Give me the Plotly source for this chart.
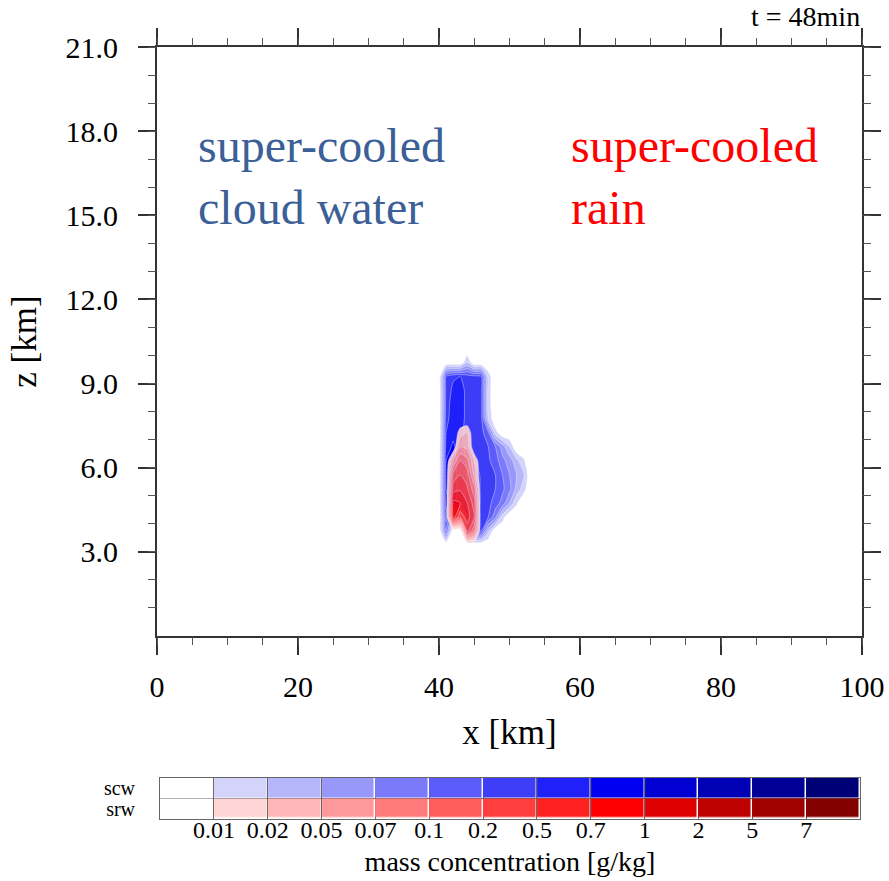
import numpy as np
import plotly.graph_objects as go

# ---------------- data ----------------
levels = [0.01, 0.02, 0.05, 0.07, 0.1, 0.2, 0.5, 0.7, 1, 2, 5, 7]
level_labels = ["0.01", "0.02", "0.05", "0.07", "0.1", "0.2", "0.5", "0.7", "1", "2", "5", "7"]

x_km = [40, 41, 42, 43, 44, 45, 46, 47, 48, 49, 50, 51, 52, 53, 54]
z_km = [3.25, 3.75, 4.25, 4.75, 5.25, 5.75, 6.25, 6.75, 7.25, 7.75, 8.25, 8.75, 9.25, 9.75, 10.25]

# super-cooled cloud water [g/kg], rows = z_km (bottom -> top), cols = x_km
scw = [
    [0, 0,    0,    0,    0,    0,    0,    0,     0,     0,     0,    0,     0,     0, 0],
    [0, 0.12, 0,    0,    0.25, 0.3,  0.2,  0.03,  0,     0,     0,    0,     0,     0, 0],
    [0, 0.35, 0.05, 0.05, 0.5,  0.6,  0.35, 0.2,   0.08,  0.015, 0,    0,     0,     0, 0],
    [0, 0.6,  0.8,  0.6,  0.55, 0.8,  0.4,  0.3,   0.15,  0.09,  0.05, 0.012, 0,     0, 0],
    [0, 0.7,  0.85, 0.6,  0.5,  0.8,  0.4,  0.3,   0.2,   0.12,  0.08, 0.04,  0.015, 0, 0],
    [0, 0.75, 0.85, 0.6,  0.5,  0.75, 0.4,  0.3,   0.2,   0.1,   0.07, 0.05,  0.025, 0, 0],
    [0, 0.7,  0.8,  0.6,  0.45, 0.45, 0.35, 0.25,  0.15,  0.08,  0.06, 0.03,  0.012, 0, 0],
    [0, 0.6,  0.75, 0.6,  0.4,  0.35, 0.3,  0.2,   0.1,   0.06,  0.02, 0,     0,     0, 0],
    [0, 0.5,  0.65, 0.55, 0.4,  0.35, 0.3,  0.12,  0.015, 0,     0,    0,     0,     0, 0],
    [0, 0.4,  0.6,  0.6,  0.4,  0.35, 0.3,  0.02,  0,     0,     0,    0,     0,     0, 0],
    [0, 0.35, 0.6,  0.6,  0.4,  0.35, 0.3,  0.015, 0,     0,     0,    0,     0,     0, 0],
    [0, 0.3,  0.55, 0.6,  0.4,  0.35, 0.3,  0.015, 0,     0,     0,    0,     0,     0, 0],
    [0, 0.25, 0.45, 0.5,  0.35, 0.3,  0.25, 0.015, 0,     0,     0,    0,     0,     0, 0],
    [0, 0,    0,    0,    0.02, 0,    0,    0,     0,     0,     0,    0,     0,     0, 0],
    [0, 0,    0,    0,    0,    0,    0,    0,     0,     0,     0,    0,     0,     0, 0],
]

# super-cooled rain water [g/kg]
srw = [
    [0, 0, 0,    0,     0,    0,     0, 0, 0, 0, 0, 0, 0, 0, 0],
    [0, 0, 0,    0,     0.3,  0.08,  0, 0, 0, 0, 0, 0, 0, 0, 0],
    [0, 0, 0.9,  0.3,   0.6,  0.2,   0, 0, 0, 0, 0, 0, 0, 0, 0],
    [0, 0, 0.8,  0.7,   0.5,  0.15,  0, 0, 0, 0, 0, 0, 0, 0, 0],
    [0, 0, 0.35, 0.45,  0.25, 0.08,  0, 0, 0, 0, 0, 0, 0, 0, 0],
    [0, 0, 0.12, 0.2,   0.15, 0.04,  0, 0, 0, 0, 0, 0, 0, 0, 0],
    [0, 0, 0.05, 0.1,   0.08, 0.02,  0, 0, 0, 0, 0, 0, 0, 0, 0],
    [0, 0, 0,    0.05,  0.04, 0,     0, 0, 0, 0, 0, 0, 0, 0, 0],
    [0, 0, 0,    0.015, 0.02, 0,     0, 0, 0, 0, 0, 0, 0, 0, 0],
    [0, 0, 0,    0,     0,    0,     0, 0, 0, 0, 0, 0, 0, 0, 0],
    [0, 0, 0,    0,     0,    0,     0, 0, 0, 0, 0, 0, 0, 0, 0],
    [0, 0, 0,    0,     0,    0,     0, 0, 0, 0, 0, 0, 0, 0, 0],
    [0, 0, 0,    0,     0,    0,     0, 0, 0, 0, 0, 0, 0, 0, 0],
    [0, 0, 0,    0,     0,    0,     0, 0, 0, 0, 0, 0, 0, 0, 0],
    [0, 0, 0,    0,     0,    0,     0, 0, 0, 0, 0, 0, 0, 0, 0],
]

scw_colors = ["rgb(255,255,255)", "rgb(212,212,250)", "rgb(182,182,250)", "rgb(152,152,250)",
              "rgb(122,122,250)", "rgb(92,92,250)", "rgb(62,62,248)", "rgb(32,32,250)",
              "rgb(0,0,242)", "rgb(0,0,210)", "rgb(0,0,180)", "rgb(0,0,150)", "rgb(0,0,118)"]
srw_colors = ["rgb(255,255,255)", "rgb(255,212,212)", "rgb(255,182,182)", "rgb(255,152,152)",
              "rgb(255,122,122)", "rgb(255,92,92)", "rgb(255,62,62)", "rgb(255,32,32)",
              "rgb(255,0,0)", "rgb(222,0,0)", "rgb(190,0,0)", "rgb(160,0,0)", "rgb(130,0,0)"]

x_major = [0, 20, 40, 60, 80, 100]
z_major = [3, 6, 9, 12, 15, 18, 21]

# ---------------- helpers ----------------
lev_ext = [0.0] + levels + [10.0]


def to_index(field):
    a = np.array(field, dtype=float)
    return np.interp(a, lev_ext, np.arange(len(lev_ext))).tolist()


def scale(colors, transparent_low):
    n = len(colors) - 1
    cs = [[k / n, c] for k, c in enumerate(colors)]
    if transparent_low:
        cs[0][1] = "rgba(255,255,255,0)"
    return cs


SERIF = "Liberation Serif, Times New Roman, serif"
AX = "#333333"
NOAX = dict(showgrid=False, zeroline=False, automargin=False)

fig = go.Figure()

for field, cols, op in [(scw, scw_colors, 1.0), (srw, srw_colors, 0.9)]:
    fig.add_trace(go.Contour(
        x=x_km, y=z_km, z=to_index(field),
        autocontour=False,
        contours=dict(start=1, end=len(levels), size=1, coloring="fill", showlines=True),
        line=dict(color="rgba(255,255,255,0.55)", width=0.7, smoothing=0.6),
        colorscale=scale(cols, True), showscale=False, opacity=op,
        hoverinfo="skip", xaxis="x", yaxis="y"))

# empty traces so that the overlay axes (minor ticks, offset labels) are drawn
for xa, ya in [("x3", "y"), ("x4", "y"), ("x", "y3"), ("x", "y4"), ("x5", "y2")]:
    fig.add_trace(go.Scatter(x=[None], y=[None], xaxis=xa, yaxis=ya, mode="markers",
                             showlegend=False, hoverinfo="skip"))

# colour bar (two rows) drawn as heatmaps on a second axis pair
ncls = len(levels) + 1
for ypos, cols in [(0.5, scw_colors), (-0.5, srw_colors)]:
    fig.add_trace(go.Heatmap(
        x=list(range(ncls)), y=[ypos], z=[list(range(ncls))],
        colorscale=scale(cols, False), zmin=0, zmax=ncls - 1, showscale=False,
        xgap=1.5, ygap=1.5, hoverinfo="skip", xaxis="x2", yaxis="y2"))

x_minor = [v for v in range(0, 101, 5)]
z_minor = [v for v in range(1, 22)]
bar_bounds = [i + 0.5 for i in range(len(levels))]

tfont = dict(family=SERIF, size=30, color="black")

fig.update_layout(
    width=889, height=881,
    margin=dict(l=157, r=27, t=47, b=62, autoexpand=False),
    paper_bgcolor="white", plot_bgcolor="white",
    showlegend=False,
    # main x axis: major ticks
    xaxis=dict(domain=[0, 1], anchor="y", range=[0, 100], tickmode="array", tickvals=x_major,
               ticks="outside", ticklen=17, tickwidth=1.5, tickcolor=AX, showticklabels=False,
               showline=True, linecolor=AX, linewidth=1.5, mirror="ticks", **NOAX),
    # minor x ticks
    xaxis3=dict(overlaying="x", anchor="y", range=[0, 100], tickmode="array", tickvals=x_minor,
                ticks="outside", ticklen=8, tickwidth=1.2, tickcolor="#555", showticklabels=False,
                showline=False, mirror="ticks", **NOAX),
    # x labels with extra offset (invisible long ticks)
    xaxis4=dict(overlaying="x", anchor="y", range=[0, 100], tickmode="array", tickvals=x_major,
                ticktext=[str(v) for v in x_major],
                ticks="outside", ticklen=24, tickcolor="rgba(0,0,0,0)", showline=False,
                tickfont=tfont, **NOAX,
                title=dict(text="x [km]", font=dict(family=SERIF, size=35, color="black"), standoff=17)),
    # main y axis: major ticks
    yaxis=dict(domain=[0.237, 1], anchor="x", range=[0, 21], tickmode="array", tickvals=z_major,
               ticks="outside", ticklen=17, tickwidth=1.5, tickcolor=AX, showticklabels=False,
               showline=True, linecolor=AX, linewidth=1.5, mirror="ticks", **NOAX),
    # minor y ticks
    yaxis3=dict(overlaying="y", anchor="x", range=[0, 21], tickmode="array", tickvals=z_minor,
                ticks="outside", ticklen=8, tickwidth=1.2, tickcolor="#555", showticklabels=False,
                showline=False, mirror="ticks", **NOAX),
    # y labels with extra offset (invisible long ticks)
    yaxis4=dict(overlaying="y", anchor="x", range=[0, 21], tickmode="array", tickvals=z_major,
                ticktext=["%.1f" % v for v in z_major],
                ticks="outside", ticklen=32, tickcolor="rgba(0,0,0,0)", showline=False,
                tickfont=tfont, **NOAX,
                title=dict(text="z [km]", font=dict(family=SERIF, size=35, color="black"), standoff=18)),
    # colour-bar axes
    xaxis2=dict(domain=[0.0043, 0.9972], anchor="y2", range=[-0.5, ncls - 0.5],
                tickmode="array", tickvals=bar_bounds, showticklabels=False,
                ticks="", showline=True, linecolor="#666", linewidth=1, mirror=True,
                showgrid=True, gridcolor="#666", gridwidth=1, zeroline=False, automargin=False),
    # colour-bar labels on a free axis placed slightly above the bar bottom
    xaxis5=dict(overlaying="x2", anchor="free", position=6 / 772, range=[-0.5, ncls - 0.5],
                tickmode="array", tickvals=bar_bounds, ticktext=level_labels,
                ticks="", showline=False, **NOAX,
                tickfont=dict(family=SERIF, size=24, color="black"),
                title=dict(text="mass concentration [g/kg]", font=dict(family=SERIF, size=28, color="black"),
                           standoff=9)),
    yaxis2=dict(domain=[0, 0.0531], anchor="x2", range=[-1, 1],
                tickmode="array", tickvals=[-0.5, 0.5], ticktext=["srw", "scw"],
                ticks="outside", ticklen=20, tickcolor="rgba(0,0,0,0)",
                showline=True, linecolor="#666", linewidth=1, mirror=True, automargin=False,
                showgrid=False, zeroline=True, zerolinecolor="#666", zerolinewidth=1,
                tickfont=dict(family=SERIF, size=20, color="black")),
    annotations=[
        dict(text="super-cooled<br>cloud water", x=5.6, y=16.4, xref="x", yref="y",
             xanchor="left", yanchor="middle", align="left", showarrow=False,
             font=dict(family=SERIF, size=48, color="#3b5f96")),
        dict(text="super-cooled<br>rain", x=58.4, y=16.4, xref="x", yref="y",
             xanchor="left", yanchor="middle", align="left", showarrow=False,
             font=dict(family=SERIF, size=48, color="#ff0000")),
        dict(text="t = 48min", x=1, y=1 + 31 / 772, xref="paper", yref="paper",
             xanchor="right", yanchor="middle", showarrow=False,
             font=dict(family=SERIF, size=28, color="black")),
    ],
)

fig.write_html("out.html", config={"displayModeBar": False},
               post_script="document.body.style.margin = '0px';")
